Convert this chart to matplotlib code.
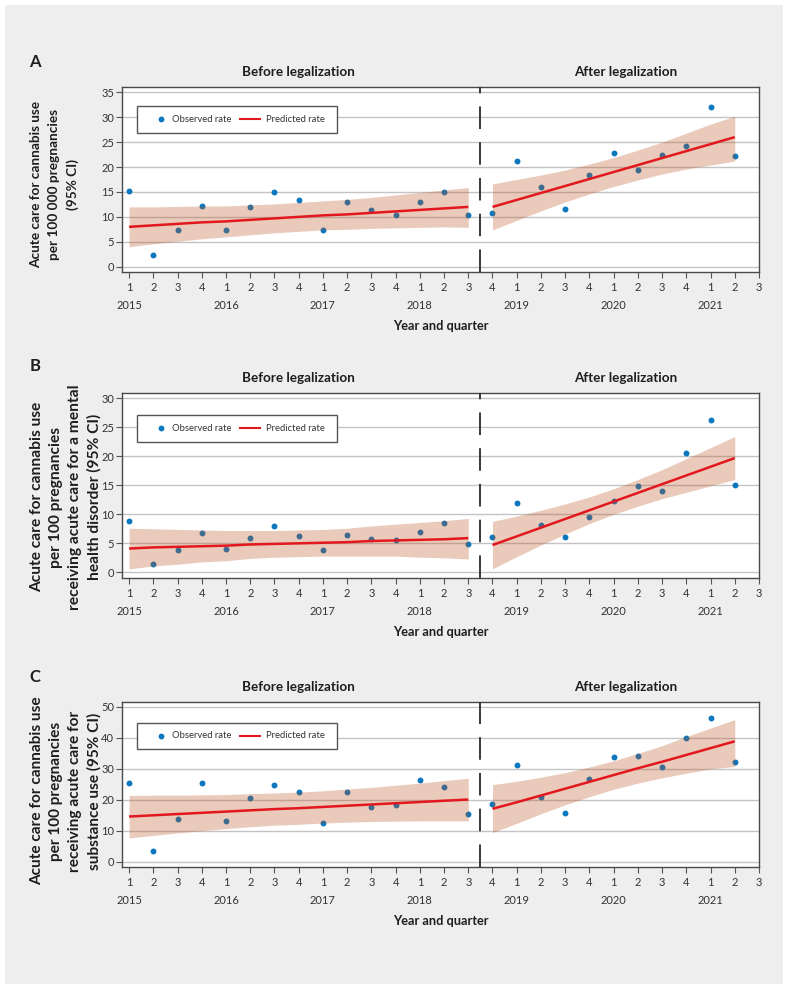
import matplotlib
matplotlib.use('Agg')
import matplotlib.pyplot as plt
from matplotlib.patches import Rectangle
from matplotlib.transforms import blended_transform_factory
from matplotlib.font_manager import FontProperties

plt.rcParams['font.family'] = ['Lato', 'DejaVu Sans']

W, H = 791, 992

# ---------------- data ----------------
quarter_labels = ['1', '2', '3', '4'] * 6 + ['1', '2', '3']
year_labels = ['2015', '2016', '2017', '2018', '2019', '2020', '2021']
year_positions = [0, 4, 8, 12, 16, 20, 24]

obs_idx = list(range(26))
before_idx = list(range(0, 15))
after_idx = list(range(15, 26))

# Panel A
a_obs = [15.2, 2.4, 7.4, 12.2, 7.3, 12.0, 14.9, 13.3, 7.3, 13.0, 11.3, 10.4, 12.9,
         15.0, 10.4, 10.7, 21.3, 15.9, 11.5, 18.5, 22.8, 19.4, 22.5, 24.2, 32.0, 22.2]
a_pred_before = [8.0, 8.3, 8.6, 8.9, 9.1, 9.4, 9.7, 10.0, 10.3, 10.5, 10.8, 11.1, 11.4, 11.7, 12.0]
a_hi_before = [12.0, 12.0, 12.1, 12.2, 12.2, 12.4, 12.6, 12.9, 13.2, 13.5, 13.9, 14.4, 14.9, 15.4, 15.9]
a_lo_before = [4.0, 4.6, 5.1, 5.6, 6.0, 6.4, 6.8, 7.1, 7.4, 7.5, 7.7, 7.8, 7.9, 8.0, 7.9]
a_pred_after = [12.0, 13.4, 14.8, 16.2, 17.6, 19.0, 20.4, 21.8, 23.2, 24.6, 26.0]
a_hi_after = [16.6, 17.5, 18.4, 19.4, 20.6, 21.9, 23.4, 25.0, 26.8, 28.6, 30.2]
a_lo_after = [7.4, 9.3, 11.2, 13.0, 14.6, 16.1, 17.4, 18.6, 19.6, 20.4, 21.2]

# Panel B
b_obs = [8.8, 1.4, 3.9, 6.7, 4.0, 6.0, 8.0, 6.2, 3.9, 6.4, 5.8, 5.5, 7.0,
         8.5, 4.9, 6.1, 12.0, 8.1, 6.1, 9.6, 12.3, 14.9, 14.0, 20.6, 26.3, 15.0]
b_pred_before = [4.1, 4.3, 4.4, 4.5, 4.6, 4.8, 4.9, 5.0, 5.1, 5.2, 5.4, 5.5, 5.6, 5.7, 5.9]
b_hi_before = [7.6, 7.5, 7.4, 7.3, 7.2, 7.2, 7.2, 7.3, 7.4, 7.6, 8.0, 8.3, 8.6, 8.9, 9.3]
b_lo_before = [0.6, 1.1, 1.4, 1.8, 2.0, 2.4, 2.6, 2.7, 2.8, 2.8, 2.8, 2.8, 2.6, 2.5, 2.3]
b_pred_after = [4.7, 6.2, 7.7, 9.2, 10.7, 12.2, 13.7, 15.2, 16.7, 18.2, 19.7]
b_hi_after = [8.8, 9.7, 10.7, 11.8, 13.0, 14.4, 16.0, 17.7, 19.6, 21.5, 23.4]
b_lo_after = [0.6, 2.7, 4.7, 6.6, 8.4, 10.0, 11.4, 12.7, 13.8, 14.9, 16.0]

# Panel C
c_obs = [25.5, 3.5, 13.7, 25.3, 13.0, 20.5, 24.7, 22.5, 12.4, 22.5, 17.6, 18.3, 26.4,
         24.2, 15.3, 18.8, 31.3, 21.0, 15.9, 26.6, 33.7, 34.2, 30.6, 40.1, 46.4, 32.3]
c_pred_before = [14.6, 15.0, 15.4, 15.8, 16.2, 16.6, 17.0, 17.3, 17.7, 18.1, 18.5, 18.9, 19.3, 19.7, 20.1]
c_hi_before = [21.4, 21.5, 21.5, 21.6, 21.7, 22.0, 22.2, 22.5, 22.9, 23.5, 24.0, 24.7, 25.4, 26.2, 27.0]
c_lo_before = [7.7, 8.5, 9.3, 10.0, 10.7, 11.3, 11.8, 12.1, 12.5, 12.8, 13.0, 13.1, 13.2, 13.2, 13.2]
c_pred_after = [17.1, 19.2, 21.4, 23.6, 25.8, 28.0, 30.2, 32.3, 34.5, 36.7, 38.9]
c_hi_after = [24.9, 26.0, 27.3, 28.8, 30.6, 32.6, 35.0, 37.5, 40.4, 43.2, 45.9]
c_lo_after = [9.4, 12.4, 15.5, 18.4, 21.0, 23.4, 25.4, 27.1, 28.6, 30.0, 30.8]

ylabels = [
    'Acute care for cannabis use\nper 100 000 pregnancies\n(95% CI)',
    'Acute care for cannabis use\nper 100 pregnancies\nreceiving acute care for a mental\nhealth disorder (95% CI)',
    'Acute care for cannabis use\nper 100 pregnancies\nreceiving acute care for\nsubstance use (95% CI)',
]
letters = ['A', 'B', 'C']

# ---------------- layout / style ----------------
BLUE = '#0a77bf'
RED = '#e3181e'
BAND = '#b8501f'
DARK = '#1e1e1e'
TICK = '#333333'


def fx(x):
    return x / W


def fy(y):
    return 1 - y / H


fig = plt.figure(figsize=(W / 100, H / 100), dpi=100, facecolor='white')
renderer = fig.canvas.get_renderer()


def fit_size(text, target_px, weight='normal', base=10.0):
    fp = FontProperties(family=['Lato', 'DejaVu Sans'], weight=weight, size=base)
    w, h, d = renderer.get_text_width_height_descent(text, fp, ismath=False)
    return base * target_px / w


def ascent_px(size, weight='normal'):
    fp = FontProperties(family=['Lato', 'DejaVu Sans'], weight=weight, size=size)
    w, h, d = renderer.get_text_width_height_descent('lp', fp, ismath=False)
    return h - d


TICK_FS = 8.0
TITLE_FS = fit_size('Before legalization', 113, 'bold')
XLAB_FS = fit_size('Year and quarter', 96, 'bold')
LEG_FS = 6.8
LETTER_FS = fit_size('A', 11.5, 'bold')

panels = [
    dict(obs=a_obs, pb=a_pred_before, hb=a_hi_before, lb=a_lo_before,
         pa=a_pred_after, ha=a_hi_after, la=a_lo_after,
         top=86.7, bottom=272.3, ylim=(-1.12, 36.12), yticks=list(range(0, 36, 5)),
         letter_y=61.7, ylab_y=185, ylab_w=167, leg_top=106.0),
    dict(obs=b_obs, pb=b_pred_before, hb=b_hi_before, lb=b_lo_before,
         pa=b_pred_after, ha=b_hi_after, la=b_lo_after,
         top=392.7, bottom=578.3, ylim=(-1.03, 30.97), yticks=list(range(0, 31, 5)),
         letter_y=366.0, ylab_y=497, ylab_w=190, leg_top=415.0),
    dict(obs=c_obs, pb=c_pred_before, hb=c_hi_before, lb=c_lo_before,
         pa=c_pred_after, ha=c_hi_after, la=c_lo_after,
         top=701.7, bottom=867.3, ylim=(-1.8, 51.7), yticks=list(range(0, 51, 10)),
         letter_y=676.7, ylab_y=791, ylab_w=189, leg_top=722.7),
]

fig.patches.append(Rectangle((fx(5), fy(984)), fx(783) - fx(5), fy(5) - fy(984),
                             transform=fig.transFigure, facecolor='#edeeed',
                             edgecolor='none', zorder=-10))

AX_L, AX_R = 122.3, 759.0

for i, p in enumerate(panels):
    ax = fig.add_axes([fx(AX_L), fy(p['bottom']), fx(AX_R) - fx(AX_L),
                       (p['bottom'] - p['top']) / H])
    ax.set_facecolor('white')
    ax.set_xlim(-0.28, 26)
    ax.set_ylim(*p['ylim'])
    ax.set_yticks(p['yticks'])
    ax.set_xticks(list(range(27)))
    ax.set_xticklabels(quarter_labels)
    ax.yaxis.grid(True, color='#c4c4c4', lw=1.0, zorder=0)
    ax.set_axisbelow(True)
    for s in ax.spines.values():
        s.set_color('#4a4a4a')
        s.set_linewidth(1.0)
    ax.tick_params(axis='both', direction='out', length=4, width=0.8,
                   color='#555555', labelcolor=TICK, labelsize=TICK_FS)
    ax.tick_params(axis='x', pad=3)
    ax.tick_params(axis='y', pad=2)

    ax.scatter(obs_idx, p['obs'], s=18, color=BLUE, linewidths=0, zorder=2)
    ax.fill_between(before_idx, p['lb'], p['hb'], color=BAND, alpha=0.3, lw=0, zorder=3)
    ax.fill_between(after_idx, p['la'], p['ha'], color=BAND, alpha=0.3, lw=0, zorder=3)
    ax.plot(before_idx, p['pb'], color=RED, lw=1.8, zorder=4, solid_capstyle='butt')
    ax.plot(after_idx, p['pa'], color=RED, lw=1.8, zorder=4, solid_capstyle='butt')
    ax.axvline(14.5, color='#2a2a2a', lw=1.3, linestyle=(0, (12.5, 7.3)), zorder=6)

    tr = blended_transform_factory(ax.transData, fig.transFigure)
    for pos, lab in zip(year_positions, year_labels):
        ax.text(pos, fy(p['bottom'] + 33.5), lab, transform=tr, ha='center', va='center',
                fontsize=TICK_FS, color=TICK)
    ax.text(7.0, fy(p['top'] - 14.4), 'Before legalization', transform=tr,
            ha='center', va='center', fontsize=TITLE_FS, fontweight='bold', color=DARK)
    ax.text(20.5, fy(p['top'] - 14.4), 'After legalization', transform=tr,
            ha='center', va='center', fontsize=TITLE_FS, fontweight='bold', color=DARK)

    fig.text(fx((AX_L + AX_R) / 2), fy(p['bottom'] + 53.5), 'Year and quarter',
             ha='center', va='center', fontsize=XLAB_FS, fontweight='bold', color=DARK)
    fig.text(fx(35), fy(p['letter_y']), letters[i], ha='center', va='center',
             fontsize=LETTER_FS, fontweight='bold', color=DARK)

    ylab_fs = fit_size('Acute care for cannabis use', p['ylab_w'], 'bold')
    ls = 16.0 / ascent_px(ylab_fs, 'bold')
    fig.text(fx(30), fy(p['ylab_y']), ylabels[i], rotation=90, ha='left', va='center',
             multialignment='center', fontsize=ylab_fs, fontweight='bold',
             color=DARK, linespacing=ls)

    # legend box
    lt = p['leg_top']
    lb_ = lt + 26.5
    ym = (lt + lb_) / 2
    ax.add_patch(Rectangle((fx(137.3), fy(lb_)), fx(337.3) - fx(137.3), (lb_ - lt) / H,
                           transform=fig.transFigure, facecolor='white',
                           edgecolor='#555555', lw=1.0, zorder=7))
    ax.plot([fx(160.7)], [fy(ym)], 'o', transform=fig.transFigure, ms=4.2,
            color=BLUE, mec='none', zorder=8)
    ax.plot([fx(240), fx(260)], [fy(ym), fy(ym)], transform=fig.transFigure,
            color=RED, lw=1.5, zorder=8)
    ax.text(fx(171.5), fy(ym), 'Observed rate', transform=fig.transFigure,
            ha='left', va='center', fontsize=LEG_FS, color=TICK, zorder=8)
    ax.text(fx(266.5), fy(ym), 'Predicted rate', transform=fig.transFigure,
            ha='left', va='center', fontsize=LEG_FS, color=TICK, zorder=8)

fig.savefig('out.png', dpi=100, facecolor='white')
